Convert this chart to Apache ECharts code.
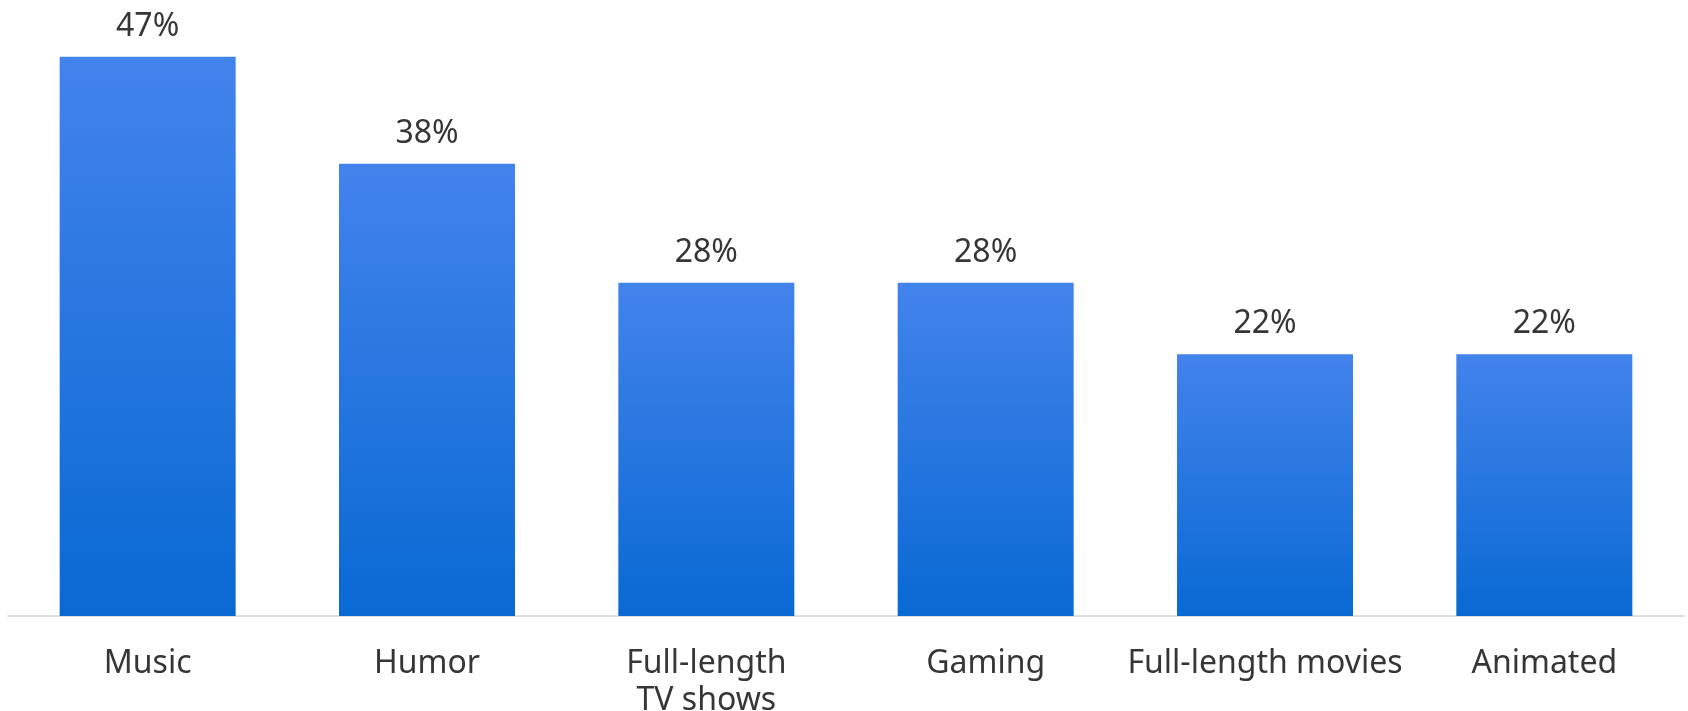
<!DOCTYPE html>
<html>
<head>
<meta charset="utf-8">
<script src="https://cdn.jsdelivr.net/npm/echarts@6/dist/echarts.min.js"></script>
<style>
  html, body { margin: 0; padding: 0; background: #ffffff; }
  #chart { width: 1688px; height: 711px; }
</style>
</head>
<body>
<div id="chart"></div>
<script>
// Share of viewers by content type (%)
const categories = ['Music', 'Humor', 'Full-length\nTV shows', 'Gaming', 'Full-length movies', 'Animated'];
const shares = [47, 38, 28, 28, 22, 22];

const chart = echarts.init(document.getElementById('chart'));

const font = '"Noto Sans", "Open Sans", sans-serif';
const textColor = '#363636';

chart.setOption({
  animation: false,
  backgroundColor: '#ffffff',
  grid: {
    left: 8,
    right: 4,
    top: 21,
    bottom: 95,
    containLabel: false,
    outerBoundsMode: 'none'
  },
  xAxis: {
    type: 'category',
    data: categories,
    axisLine: { show: true, lineStyle: { color: '#e0e0e0', width: 2 } },
    axisTick: { show: false },
    axisLabel: {
      color: textColor,
      fontFamily: font,
      fontSize: 32,
      lineHeight: 37,
      margin: 29,
      interval: 0
    }
  },
  yAxis: { type: 'value', min: 0, max: 50, show: false },
  series: [
    {
      type: 'bar',
      data: shares,
      barWidth: 176,
      itemStyle: {
        color: new echarts.graphic.LinearGradient(0, 0, 0, 1, [
          { offset: 0, color: '#4383ec' },
          { offset: 1, color: '#0969d3' }
        ])
      },
      label: {
        show: true,
        position: 'top',
        distance: 14,
        color: textColor,
        fontFamily: font,
        fontSize: 32,
        formatter: p => p.value + '%'
      }
    }
  ]
});
</script>
</body>
</html>
